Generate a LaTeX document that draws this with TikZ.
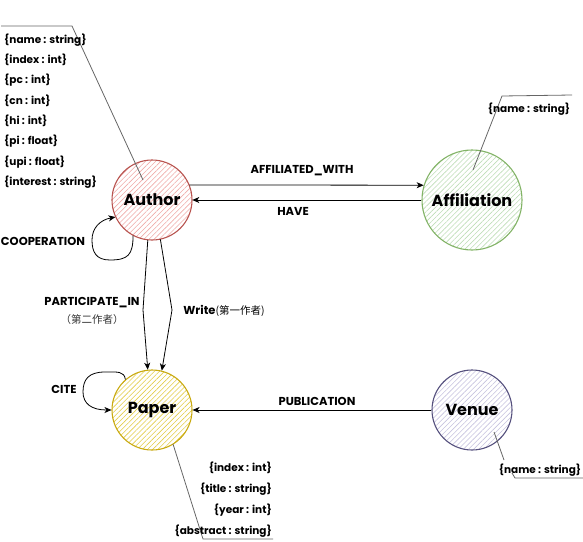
\documentclass[tikz,border=0pt]{standalone}
\usepackage{fontspec}
\setmainfont{Poppins}
\newfontfamily\cjk{Noto Sans CJK SC}
\usetikzlibrary{arrows.meta,patterns.meta}
\definecolor{authS}{HTML}{B85450}\definecolor{authH}{HTML}{EFABA8}
\definecolor{affS}{HTML}{82B366}\definecolor{affH}{HTML}{BEDDB7}
\definecolor{papS}{HTML}{C9AA12}\definecolor{papH}{HTML}{E2CC48}
\definecolor{venS}{HTML}{56517E}\definecolor{venH}{HTML}{C6C2DE}
\definecolor{annot}{HTML}{666666}
\tikzset{
  entity/.style={circle,draw=#1S,line width=1.1pt,minimum size=80pt,inner sep=0pt,
    pattern={Lines[angle=45,distance=3.6pt,line width=0.6pt]},pattern color=#1H,
    font=\fontsize{16}{18}\selectfont\bfseries},
  edge/.style={draw=black,line width=0.8pt,-{Stealth[length=7pt,width=6pt,inset=2pt]}},
  lbl/.style={font=\fontsize{11.5}{13}\selectfont\bfseries,inner sep=0pt},
  attr/.style={font=\fontsize{10.5}{12}\selectfont\bfseries,inner sep=0pt},
  annline/.style={draw=annot,line width=0.8pt}
}
\begin{document}
\begin{tikzpicture}[x=1pt,y=-1pt]
\useasboundingbox (0,0) rectangle (583,541);
% entities
\node[entity=auth] (author) at (152,200) {Author};
\node[entity=aff,minimum size=100pt] (affil) at (472,200) {Affiliation};
\node[entity=pap] (paper) at (152,410) {Paper};
\node[entity=ven] (venue) at (472,410) {Venue};
% annotations
\coordinate (aA) at (143,180); \coordinate (aB) at (72,26); \coordinate (aC) at (1,26);
\draw[annline] (aA) -- (aB) -- (aC);
\node[attr,anchor=north west,align=left,font=\fontsize{10.5}{20.3}\selectfont\bfseries] (authattr) at (4,33.5)
 {\{name : string\}\\\{index : int\}\\\{pc : int\}\\\{cn : int\}\\\{hi : int\}\\\{pi : float\}\\\{upi : float\}\\\{interest : string\}};
\coordinate (fA) at (473,170); \coordinate (fB) at (502,96); \coordinate (fC) at (572,95);
\draw[annline] (fA) -- (fB) -- (fC);
\node[attr] (affattr) at (529,109) {\{name : string\}};
\coordinate (pA) at (173,444); \coordinate (pB) at (203,539); \coordinate (pC) at (273,539);
\draw[annline] (pA) -- (pB) -- (pC);
\node[attr,anchor=north east,align=right,font=\fontsize{10.5}{20.9}\selectfont\bfseries] (papattr) at (272,461.5)
 {\{index : int\}\\\{title : string\}\\\{year : int\}\\\{abstract : string\}};
\coordinate (vA) at (494,432); \coordinate (vB) at (504,460);
\draw[annline] (vA) -- (vB);
\node[attr] (venattr) at (540,470) {\{name : string\}};
\coordinate (vC) at (512,473); \coordinate (vD) at (515,478); \coordinate (vE) at (583,478);
\draw[annline] (vC) -- (vD) -- (vE);
% edges
\draw[edge] (author.22) -- (affil.163);
\node[lbl] (l1) at (302,171) {AFFILIATED\_WITH};
\draw[edge] (affil.west) -- (author.east);
\node[lbl] (l2) at (293,211) {HAVE};
\draw[edge] (author.242) .. controls (133,255) and (128,260) .. (110,260)
  .. controls (96,260) and (92,252) .. (92,240) .. controls (92,228) and (100,220) .. (author.205);
\node[lbl] (l3) at (43,241) {COOPERATION};
\draw[edge] (author.264) -- (143,310) -- (paper.96);
\node[lbl] (l4) at (92,303) {PARTICIPATE\_IN};
\node[inner sep=0pt,font=\fontsize{10.5}{12}\selectfont\cjk,text=black!80] (l4b) at (92,320) {（第二作者）};
\draw[edge] (author.282) -- (172,310) -- (paper.76);
\node[lbl] (l5) at (224,311) {Write{\cjk\mdseries\fontsize{10.5}{12}\selectfont(第一作者)}};
\draw[edge] (paper.131) .. controls (124,371) and (118,372) .. (105,372)
  .. controls (89,372) and (83,379) .. (83,392) .. controls (83,404) and (92,410) .. (paper.west);
\node[lbl] (l6) at (64,389) {CITE};
\draw[edge] (venue.west) -- (paper.east);
\node[lbl] (l7) at (317,401) {PUBLICATION};
\end{tikzpicture}
\end{document}
